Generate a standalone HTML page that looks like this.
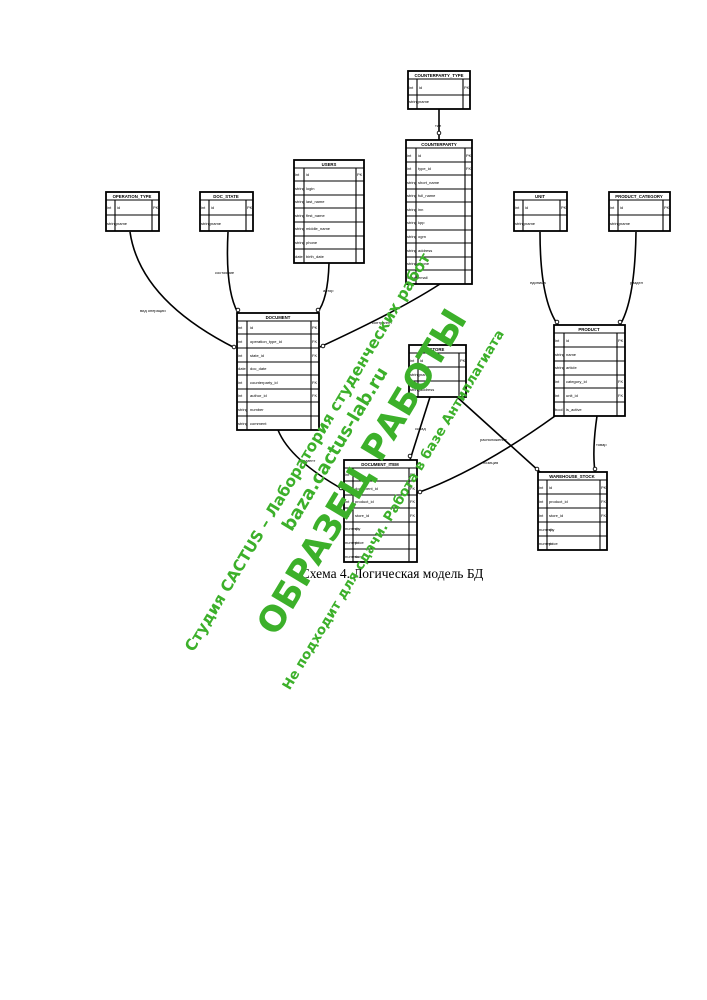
<!DOCTYPE html>
<html><head><meta charset="utf-8"><style>body{margin:0;background:#fff}svg{display:block}</style></head>
<body>
<svg width="707" height="1000" viewBox="0 0 707 1000" xmlns="http://www.w3.org/2000/svg" font-family="Liberation Sans, sans-serif">
<rect width="707" height="1000" fill="#fff"/>
<g stroke="#000" stroke-width="1.6" fill="none">
<path d="M130 232 Q140 300 235 348"/>
<path d="M228 232 Q225 290 238 313"/>
<path d="M329 263 Q328 300 317 313"/>
<path d="M439 109 L439 140"/>
<path d="M440 284 Q400 310 320 347"/>
<path d="M540 232 Q540 300 558 325"/>
<path d="M636 232 Q635 300 620 325"/>
<path d="M278 430 Q290 460 344 490"/>
<path d="M430 397 L410 460"/>
<path d="M457 397 L540 472"/>
<path d="M555 416 Q480 470 417 493"/>
<path d="M597 416 Q592 450 595 472"/>
</g>
<g fill="#fff" stroke="#000" stroke-width="0.9">
<circle cx="234" cy="347" r="1.8"/><circle cx="238" cy="310" r="1.8"/><circle cx="318" cy="310" r="1.8"/><circle cx="439" cy="133" r="1.8"/><circle cx="323" cy="346" r="1.8"/><circle cx="557" cy="322" r="1.8"/><circle cx="620" cy="322" r="1.8"/><circle cx="341" cy="488" r="1.8"/><circle cx="410" cy="456" r="1.8"/><circle cx="537" cy="469" r="1.8"/><circle cx="420" cy="492" r="1.8"/><circle cx="595" cy="469" r="1.8"/>
</g>
<g font-size="4" fill="#000">
<text x="140" y="312">вид операции</text><text x="215" y="274">состояние</text><text x="323" y="292">автор</text><text x="435" y="127">тип</text><text x="372" y="324">контрагент</text><text x="530" y="284">единица</text><text x="630" y="284">раздел</text><text x="298" y="462">документ</text><text x="415" y="430">склад</text><text x="480" y="441">расположение</text><text x="483" y="464">позиция</text><text x="596" y="446">товар</text>
</g>
<g stroke="#000" fill="#fff" stroke-width="1.8">
<rect x="408" y="71" width="62" height="38"/><rect x="406" y="140" width="66" height="144"/><rect x="294" y="160" width="70" height="103"/>
<rect x="106" y="192" width="53" height="39"/><rect x="200" y="192" width="53" height="39"/><rect x="514" y="192" width="53" height="39"/><rect x="609" y="192" width="61" height="39"/>
<rect x="237" y="313" width="82" height="117"/><rect x="409" y="345" width="57" height="52"/><rect x="554" y="325" width="71" height="91"/>
<rect x="344" y="460" width="73" height="102"/><rect x="538" y="472" width="69" height="78"/>
</g>
<g stroke="#000" stroke-width="1.1">
<path d="M408 79H470M408 95H470M417 79V109M463 79V109"/>
<path d="M406 148H472M406 162H472M406 175H472M406 189H472M406 202H472M406 216H472M406 230H472M406 243H472M406 257H472M406 270H472M416 148V284M465 148V284"/>
<path d="M294 168H364M294 181H364M294 195H364M294 208H364M294 222H364M294 236H364M294 249H364M304 168V263M356 168V263"/>
<path d="M106 200H159M106 215H159M115 200V231M152 200V231"/>
<path d="M200 200H253M200 215H253M209 200V231M246 200V231"/>
<path d="M514 200H567M514 215H567M523 200V231M560 200V231"/>
<path d="M609 200H670M609 215H670M618 200V231M663 200V231"/>
<path d="M237 321H319M237 334H319M237 348H319M237 362H319M237 375H319M237 389H319M237 402H319M237 416H319M247 321V430M311 321V430"/>
<path d="M409 353H466M409 367H466M409 381H466M418 353V397M459 353V397"/>
<path d="M554 333H625M554 347H625M554 361H625M554 375H625M554 388H625M554 402H625M564 333V416M617 333V416"/>
<path d="M344 468H417M344 481H417M344 495H417M344 508H417M344 522H417M344 535H417M344 549H417M353 468V562M409 468V562"/>
<path d="M538 480H607M538 494H607M538 508H607M538 522H607M538 536H607M547 480V550M600 480V550"/>
</g>
<g font-size="4.3" font-weight="bold" text-anchor="middle">
<text x="439" y="77">COUNTERPARTY_TYPE</text><text x="439" y="146">COUNTERPARTY</text><text x="329" y="166">USERS</text><text x="132" y="198">OPERATION_TYPE</text><text x="226" y="198">DOC_STATE</text><text x="540" y="198">UNIT</text><text x="639" y="198">PRODUCT_CATEGORY</text><text x="278" y="319">DOCUMENT</text><text x="437" y="351">STORE</text><text x="589" y="331">PRODUCT</text><text x="380" y="466">DOCUMENT_ITEM</text><text x="572" y="478">WAREHOUSE_STOCK</text>
</g>
<g font-size="4">
<text x="409" y="89">int</text><text x="419" y="89">id</text><text x="464" y="89">PK</text><text x="409" y="103">string</text><text x="419" y="103">name</text>
<text x="407" y="157">int</text><text x="418" y="157">id</text><text x="466" y="157">PK</text><text x="407" y="170">int</text><text x="418" y="170">type_id</text><text x="466" y="170">FK</text><text x="407" y="184">string</text><text x="418" y="184">short_name</text><text x="407" y="197">string</text><text x="418" y="197">full_name</text><text x="407" y="211">string</text><text x="418" y="211">inn</text><text x="407" y="224">string</text><text x="418" y="224">kpp</text><text x="407" y="238">string</text><text x="418" y="238">ogrn</text><text x="407" y="252">string</text><text x="418" y="252">address</text><text x="407" y="265">string</text><text x="418" y="265">phone</text><text x="407" y="279">string</text><text x="418" y="279">email</text>
<text x="295" y="176">int</text><text x="306" y="176">id</text><text x="357" y="176">PK</text><text x="295" y="190">string</text><text x="306" y="190">login</text><text x="295" y="203">string</text><text x="306" y="203">last_name</text><text x="295" y="217">string</text><text x="306" y="217">first_name</text><text x="295" y="230">string</text><text x="306" y="230">middle_name</text><text x="295" y="244">string</text><text x="306" y="244">phone</text><text x="295" y="258">date</text><text x="306" y="258">birth_date</text>
<text x="107" y="209">int</text><text x="117" y="209">id</text><text x="153" y="209">PK</text><text x="107" y="225">string</text><text x="117" y="225">name</text>
<text x="201" y="209">int</text><text x="211" y="209">id</text><text x="247" y="209">PK</text><text x="201" y="225">string</text><text x="211" y="225">name</text>
<text x="515" y="209">int</text><text x="525" y="209">id</text><text x="561" y="209">PK</text><text x="515" y="225">string</text><text x="525" y="225">name</text>
<text x="610" y="209">int</text><text x="620" y="209">id</text><text x="664" y="209">PK</text><text x="610" y="225">string</text><text x="620" y="225">name</text>
<text x="238" y="329">int</text><text x="250" y="329">id</text><text x="312" y="329">PK</text><text x="238" y="343">int</text><text x="250" y="343">operation_type_id</text><text x="312" y="343">FK</text><text x="238" y="357">int</text><text x="250" y="357">state_id</text><text x="312" y="357">FK</text><text x="238" y="370">date</text><text x="250" y="370">doc_date</text><text x="238" y="384">int</text><text x="250" y="384">counterparty_id</text><text x="312" y="384">FK</text><text x="238" y="397">int</text><text x="250" y="397">author_id</text><text x="312" y="397">FK</text><text x="238" y="411">string</text><text x="250" y="411">number</text><text x="238" y="425">string</text><text x="250" y="425">comment</text>
<text x="410" y="362">int</text><text x="420" y="362">id</text><text x="460" y="362">PK</text><text x="410" y="376">string</text><text x="420" y="376">name</text><text x="410" y="391">string</text><text x="420" y="391">address</text>
<text x="555" y="342">int</text><text x="566" y="342">id</text><text x="618" y="342">PK</text><text x="555" y="356">string</text><text x="566" y="356">name</text><text x="555" y="369">string</text><text x="566" y="369">article</text><text x="555" y="383">int</text><text x="566" y="383">category_id</text><text x="618" y="383">FK</text><text x="555" y="397">int</text><text x="566" y="397">unit_id</text><text x="618" y="397">FK</text><text x="555" y="411">bool</text><text x="566" y="411">is_active</text>
<text x="345" y="476">int</text><text x="355" y="476">id</text><text x="410" y="476">PK</text><text x="345" y="490">int</text><text x="355" y="490">document_id</text><text x="410" y="490">FK</text><text x="345" y="503">int</text><text x="355" y="503">product_id</text><text x="410" y="503">FK</text><text x="345" y="517">int</text><text x="355" y="517">store_id</text><text x="410" y="517">FK</text><text x="345" y="530">numeric</text><text x="355" y="530">qty</text><text x="345" y="544">numeric</text><text x="355" y="544">price</text><text x="345" y="558">numeric</text><text x="355" y="558">sum</text>
<text x="539" y="489">int</text><text x="549" y="489">id</text><text x="601" y="489">PK</text><text x="539" y="503">int</text><text x="549" y="503">product_id</text><text x="601" y="503">FK</text><text x="539" y="517">int</text><text x="549" y="517">store_id</text><text x="601" y="517">FK</text><text x="539" y="531">numeric</text><text x="549" y="531">qty</text><text x="539" y="545">numeric</text><text x="549" y="545">price</text>
</g>
<text x="392" y="578" font-family="Liberation Serif, serif" font-size="13.5" text-anchor="middle">Схема 4. Логическая модель БД</text>
<g fill="#3cb02a" text-anchor="middle" font-family="DejaVu Sans, sans-serif">
<text transform="translate(312,455) rotate(-59)" font-size="15.5" font-weight="bold">Студия CACTUS – Лаборатория студенческих работ</text>
<text transform="translate(340,452) rotate(-59)" font-size="18" font-weight="bold">baza.cactus-lab.ru</text>
<text transform="translate(372,478) rotate(-59)" font-size="35" font-weight="bold">ОБРАЗЕЦ РАБОТЫ</text>
<text transform="translate(397,512) rotate(-59)" font-size="13.5" font-weight="bold">Не подходит для сдачи. Работа в базе Антиплагиата</text>
</g>
</svg>
</body></html>
